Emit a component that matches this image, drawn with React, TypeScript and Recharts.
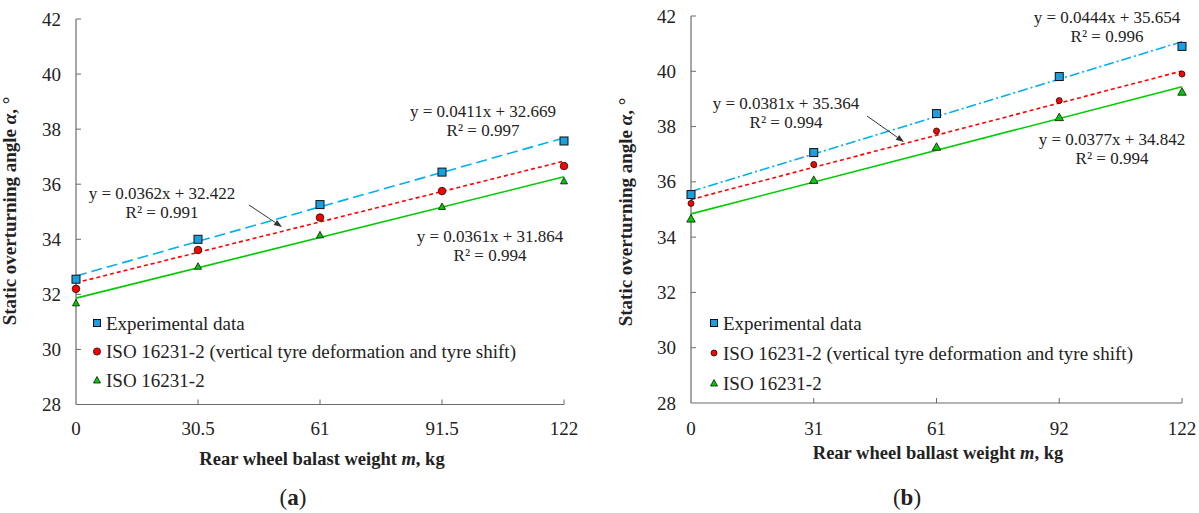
import React from 'react';
import { ScatterChart, Scatter, XAxis, YAxis } from 'recharts';

// ---- data ----
const xTicks = [0, 30.5, 61, 91.5, 122];
const xLabelsA = ['0', '30.5', '61', '91.5', '122'];
const xLabelsB = ['0', '31', '61', '92', '122'];
const yTicks = [28, 30, 32, 34, 36, 38, 40, 42];

const seriesNames = [
  'Experimental data',
  'ISO 16231-2 (vertical tyre deformation and tyre shift)',
  'ISO 16231-2',
];

const expA = [32.55, 34.0, 35.26, 36.44, 37.57];
const isoTyreA = [32.2, 33.61, 34.79, 35.75, 36.66];
const isoA = [31.7, 33.03, 34.17, 35.2, 36.13];

const expB = [35.54, 37.06, 38.47, 39.81, 40.9];
const isoTyreB = [35.22, 36.63, 37.84, 38.94, 39.9];
const isoB = [34.68, 36.08, 37.28, 38.35, 39.27];

// trend lines (values of the fitted equations at m = 0 and m = 122)
const trendX = [0, 122];
const trendExpA = [32.669, 37.683];
const trendIsoTyreA = [32.422, 36.838];
const trendIsoA = [31.864, 36.268];
const trendExpB = [35.654, 41.071];
const trendIsoTyreB = [35.364, 40.012];
const trendIsoB = [34.842, 39.441];

const eqA = [
  ['y = 0.0411x + 32.669', 'R² = 0.997'],
  ['y = 0.0362x + 32.422', 'R² = 0.991'],
  ['y = 0.0361x + 31.864', 'R² = 0.994'],
];
const eqB = [
  ['y = 0.0444x + 35.654', 'R² = 0.996'],
  ['y = 0.0381x + 35.364', 'R² = 0.994'],
  ['y = 0.0377x + 34.842', 'R² = 0.994'],
];

const toPts = (xs: number[], ys: number[]) => xs.map((x, i) => ({ x, y: ys[i] }));

const FONT = 'Liberation Serif, Times New Roman, serif';
const BLUE_LINE = '#00b0f0';
const BLUE_FILL = '#1a9fe0';
const RED = '#ff0000';
const GREEN = '#00cc00';
const AXIS = '#6b6b6b';
const TXT = '#222';

const Square = (s: number) => (p: any) => (
  <rect x={p.cx - s / 2} y={p.cy - s / 2} width={s} height={s} fill={BLUE_FILL} stroke="#111" strokeWidth={1} />
);
const Circle = (r: number) => (p: any) => (
  <circle cx={p.cx} cy={p.cy} r={r} fill={RED} stroke="#111" strokeWidth={0.8} />
);
const Tri = (w: number, h: number) => (p: any) => (
  <polygon
    points={`${p.cx},${p.cy - h / 2} ${p.cx - w / 2},${p.cy + h / 2} ${p.cx + w / 2},${p.cy + h / 2}`}
    fill={GREEN}
    stroke="#111"
    strokeWidth={0.8}
  />
);
const Nothing = () => <g />;

const makeXTick = (labels: string[], dy: number) => (p: any) => {
  const idx = xTicks.indexOf(p.payload.value);
  return (
    <g>
      {idx > 0 && <line x1={p.x} x2={p.x} y1={p.y} y2={p.y - 5} stroke={AXIS} strokeWidth={1} />}
      <text x={p.x} y={p.y + dy} textAnchor="middle" fontFamily={FONT} fontSize={19} fill={TXT}>
        {labels[idx]}
      </text>
    </g>
  );
};
const YTick = (p: any) => (
  <g>
    {p.payload.value !== 28 && <line x1={p.x} x2={p.x + 5} y1={p.y} y2={p.y} stroke={AXIS} strokeWidth={1} />}
    <text x={p.x - 15} y={p.y + 6.5} textAnchor="end" fontFamily={FONT} fontSize={19} fill={TXT}>
      {p.payload.value}
    </text>
  </g>
);

type PanelProps = {
  width: number;
  top: number;
  right: number;
  axisX: number;
  axisY: number;
  labels: string[];
  labelDy: number;
  exp: number[];
  isoTyre: number[];
  iso: number[];
  tExp: number[];
  tIsoTyre: number[];
  tIso: number[];
  blueDash: string;
  circleR: number;
  triW: number;
  triH: number;
};

const Panel = (pp: PanelProps) => (
  <ScatterChart width={pp.width} height={513} margin={{ top: pp.top, right: pp.right, bottom: 0, left: 0 }}>
    <XAxis
      type="number"
      dataKey="x"
      domain={[0, 122]}
      ticks={xTicks}
      interval={0}
      height={513 - pp.axisY}
      tickSize={0}
      tickMargin={0}
      tickLine={false}
      axisLine={{ stroke: AXIS, strokeWidth: 1.2 }}
      tick={makeXTick(pp.labels, pp.labelDy)}
    />
    <YAxis
      type="number"
      dataKey="y"
      domain={[28, 42]}
      ticks={yTicks}
      interval={0}
      width={pp.axisX}
      tickSize={0}
      tickMargin={0}
      tickLine={false}
      axisLine={{ stroke: AXIS, strokeWidth: 1.2 }}
      tick={YTick}
    />
    <Scatter data={toPts(trendX, pp.tIso)} shape={Nothing} line={{ stroke: GREEN, strokeWidth: 1.6 }} isAnimationActive={false} />
    <Scatter data={toPts(trendX, pp.tIsoTyre)} shape={Nothing} line={{ stroke: RED, strokeWidth: 1.6, strokeDasharray: '4 3' }} isAnimationActive={false} />
    <Scatter data={toPts(trendX, pp.tExp)} shape={Nothing} line={{ stroke: BLUE_LINE, strokeWidth: 1.6, strokeDasharray: pp.blueDash }} isAnimationActive={false} />
    <Scatter data={toPts(xTicks, pp.iso)} shape={Tri(pp.triW, pp.triH)} isAnimationActive={false} />
    <Scatter data={toPts(xTicks, pp.isoTyre)} shape={Circle(pp.circleR)} isAnimationActive={false} />
    <Scatter data={toPts(xTicks, pp.exp)} shape={Square(8)} isAnimationActive={false} />
  </ScatterChart>
);

const Legend2 = ({ x, y0, step, cr }: { x: number; y0: number; step: number; cr: number }) => (
  <g>
    {seriesNames.map((n, i) => {
      const cy = y0 + i * step;
      return (
        <g key={n}>
          {i === 0 && <rect x={x - 3.5} y={cy - 3.5} width={7} height={7} fill={BLUE_FILL} stroke="#111" strokeWidth={1} />}
          {i === 1 && <circle cx={x} cy={cy} r={cr} fill={RED} stroke="#111" strokeWidth={0.8} />}
          {i === 2 && <polygon points={`${x},${cy - 3.5} ${x - 3.5},${cy + 3} ${x + 3.5},${cy + 3}`} fill={GREEN} stroke="#111" strokeWidth={0.8} />}
          <text x={x + 9} y={cy + 6.5} fontFamily={FONT} fontSize={19} fill={TXT}>{n}</text>
        </g>
      );
    })}
  </g>
);

const Eq = ({ cx, y, lines }: { cx: number; y: number; lines: string[] }) => (
  <g>
    <text x={cx} y={y + 6} textAnchor="middle" fontFamily={FONT} fontSize={17} fill={TXT}>{lines[0]}</text>
    <text x={cx} y={y + 25} textAnchor="middle" fontFamily={FONT} fontSize={17} fill={TXT}>{lines[1]}</text>
  </g>
);

const Arrow = ({ x1, y1, x2, y2 }: { x1: number; y1: number; x2: number; y2: number }) => {
  const a = Math.atan2(y2 - y1, x2 - x1);
  const L = 8, W = 3;
  const bx = x2 - L * Math.cos(a), by = y2 - L * Math.sin(a);
  const px = -Math.sin(a) * W, py = Math.cos(a) * W;
  return (
    <g>
      <line x1={x1} y1={y1} x2={bx} y2={by} stroke="#333" strokeWidth={1} />
      <polygon points={`${x2},${y2} ${bx + px},${by + py} ${bx - px},${by - py}`} fill="#333" />
    </g>
  );
};

export default function App() {
  return (
    <div style={{ position: 'absolute', left: 0, top: 0, width: 1199, height: 513, background: '#fff', overflow: 'hidden' }}>
      <div style={{ position: 'absolute', left: 0, top: 0 }}>
        <Panel
          width={600}
          top={19}
          right={36}
          axisX={76}
          axisY={404.5}
          labels={xLabelsA}
          labelDy={30}
          exp={expA}
          isoTyre={isoTyreA}
          iso={isoA}
          tExp={trendExpA}
          tIsoTyre={trendIsoTyreA}
          tIso={trendIsoA}
          blueDash="11 5"
          circleR={3.8}
          triW={7}
          triH={6.5}
        />
      </div>
      <div style={{ position: 'absolute', left: 600, top: 0 }}>
        <Panel
          width={599}
          top={16}
          right={17}
          axisX={91}
          axisY={403}
          labels={xLabelsB}
          labelDy={32}
          exp={expB}
          isoTyre={isoTyreB}
          iso={isoB}
          tExp={trendExpB}
          tIsoTyre={trendIsoTyreB}
          tIso={trendIsoB}
          blueDash="10 3 2 3"
          circleR={3}
          triW={8.5}
          triH={7.5}
        />
      </div>
      <svg width={1199} height={513} style={{ position: 'absolute', left: 0, top: 0, pointerEvents: 'none' }}>
        {/* panel a annotations */}
        <Eq cx={483} y={111} lines={eqA[0]} />
        <Eq cx={162} y={193} lines={eqA[1]} />
        <Eq cx={490} y={236} lines={eqA[2]} />
        <Arrow x1={249} y1={205} x2={282} y2={227} />
        <Legend2 x={97} y0={323} step={28.5} cr={3.6} />
        {/* panel b annotations */}
        <Eq cx={1107} y={17} lines={eqB[0]} />
        <Eq cx={786} y={103} lines={eqB[1]} />
        <Eq cx={1112} y={139} lines={eqB[2]} />
        <Arrow x1={867} y1={116} x2={904} y2={142} />
        <Legend2 x={714} y0={323} step={30} cr={3} />
        {/* axis titles */}
        <text transform="translate(16,211) rotate(-90)" textAnchor="middle" fontFamily={FONT} fontSize={19} fontWeight="bold" fill={TXT}>
          Static overturning angle <tspan fontStyle="italic">α</tspan>, °
        </text>
        <text transform="translate(632,212) rotate(-90)" textAnchor="middle" fontFamily={FONT} fontSize={19} fontWeight="bold" fill={TXT}>
          Static overturning angle <tspan fontStyle="italic">α</tspan>, °
        </text>
        <text x={322} y={465} textAnchor="middle" fontFamily={FONT} fontSize={18.5} fontWeight="bold" fill={TXT}>
          Rear wheel balast weight <tspan fontStyle="italic">m</tspan>, kg
        </text>
        <text x={938} y={459} textAnchor="middle" fontFamily={FONT} fontSize={18.5} fontWeight="bold" fill={TXT}>
          Rear wheel ballast weight <tspan fontStyle="italic">m</tspan>, kg
        </text>
        <text x={293} y={505} textAnchor="middle" fontFamily={FONT} fontSize={23} fill={TXT}>
          (<tspan fontWeight="bold">a</tspan>)
        </text>
        <text x={907} y={505} textAnchor="middle" fontFamily={FONT} fontSize={23} fill={TXT}>
          (<tspan fontWeight="bold">b</tspan>)
        </text>
      </svg>
    </div>
  );
}
